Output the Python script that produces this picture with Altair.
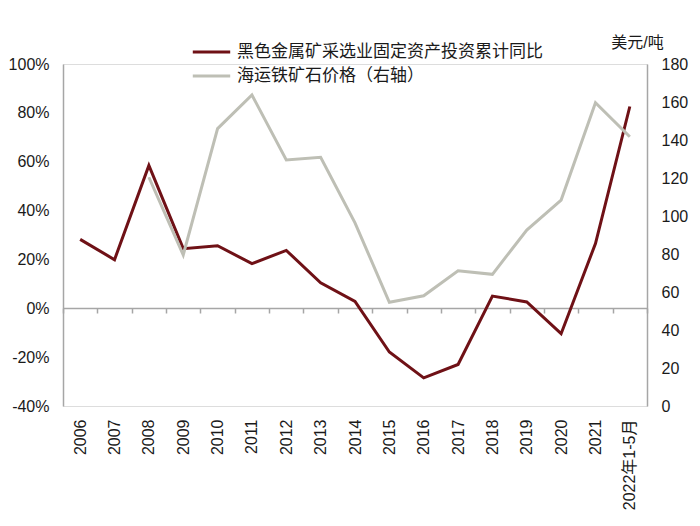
import altair as alt
import pandas as pd

categories = ["2006", "2007", "2008", "2009", "2010", "2011", "2012", "2013", "2014",
              "2015", "2016", "2017", "2018", "2019", "2020", "2021", "2022年1-5月"]
invest_yoy = [28.2, 19.9, 58.5, 24.4, 25.6, 18.3, 23.7, 10.4, 2.8,
              -17.9, -28.5, -23.0, 5.0, 2.6, -10.4, 26.5, 82.6]
ore_price = [None, None, 120.4, 79.5, 146.0, 163.7, 129.5, 130.9, 96.4,
             54.6, 58.0, 71.2, 69.3, 92.6, 108.4, 159.6, 141.7]
series_names = ["黑色金属矿采选业固定资产投资累计同比", "海运铁矿石价格（右轴）"]
series_colors = ["#6F1116", "#BEBFB5"]
left_ticks = [-40, -20, 0, 20, 40, 60, 80, 100]
right_ticks = [0, 20, 40, 60, 80, 100, 120, 140, 160, 180]

FONT = "Liberation Sans, Arial, Noto Sans CJK SC, sans-serif"
AXIS_GRAY = "#A6A6A6"
TEXT = "#1A1A1A"

df_inv = pd.DataFrame({"cat": categories, "value": invest_yoy, "series": series_names[0]})
df_ore = pd.DataFrame({"cat": categories, "value": ore_price, "series": series_names[1]}).dropna()

x_enc = alt.X(
    "cat:N", sort=categories, bandPosition=0.5,
    scale=alt.Scale(type="band", paddingInner=0, paddingOuter=0),
    axis=alt.Axis(title=None, offset=-98, labelAngle=-90, labelPadding=106,
                  tickSize=5, tickBand="extent", domainColor=AXIS_GRAY,
                  tickColor=AXIS_GRAY, labelFontSize=16, labelColor=TEXT,
                  labelFont=FONT, domainWidth=1.5, tickWidth=1.5, labelLimit=200),
)

color_enc = alt.Color(
    "series:N",
    scale=alt.Scale(domain=series_names, range=series_colors),
    legend=alt.Legend(title=None, orient="none", legendX=128, legendY=-23,
                      symbolType="stroke", symbolSize=1400, symbolStrokeWidth=3,
                      labelFontSize=17, labelFont=FONT, labelColor=TEXT,
                      labelOffset=5, rowPadding=2, clipHeight=22, padding=0,
                      labelLimit=600),
)

left = alt.Chart(df_inv).mark_line(strokeWidth=3).encode(
    x=x_enc,
    y=alt.Y("value:Q", scale=alt.Scale(domain=[-40, 100], nice=False, zero=False),
            axis=alt.Axis(title=None, values=left_ticks, labelExpr="datum.value + '%'",
                          grid=False, ticks=False, domainColor=AXIS_GRAY, domainWidth=1.5,
                          labelPadding=14, labelFontSize=16, labelColor=TEXT, labelFont=FONT)),
    color=color_enc,
)

right = alt.Chart(df_ore).mark_line(strokeWidth=3).encode(
    x=x_enc,
    y=alt.Y("value:Q", scale=alt.Scale(domain=[0, 180], nice=False),
            axis=alt.Axis(title="美元/吨", orient="right", values=right_ticks,
                          grid=False, ticks=False, domainColor=AXIS_GRAY, domainWidth=1.5,
                          labelPadding=14, labelFontSize=16, labelColor=TEXT, labelFont=FONT,
                          titleAngle=0, titleX=-10, titleY=-22, titleAlign="center",
                          titleBaseline="middle", titleFontSize=16, titleFontWeight="normal",
                          titleFont=FONT, titleColor=TEXT)),
    color=color_enc,
)

chart = (
    alt.layer(left, right)
    .resolve_scale(y="independent")
    .properties(width=584, height=342,
                autosize=alt.AutoSizeParams(type="none"),
                padding={"left": 55, "top": 56, "right": 45, "bottom": 112})
    .configure_view(stroke=None)
    .configure(background="white")
)

chart.save("out.html", embed_options={"renderer": "svg", "actions": False})
